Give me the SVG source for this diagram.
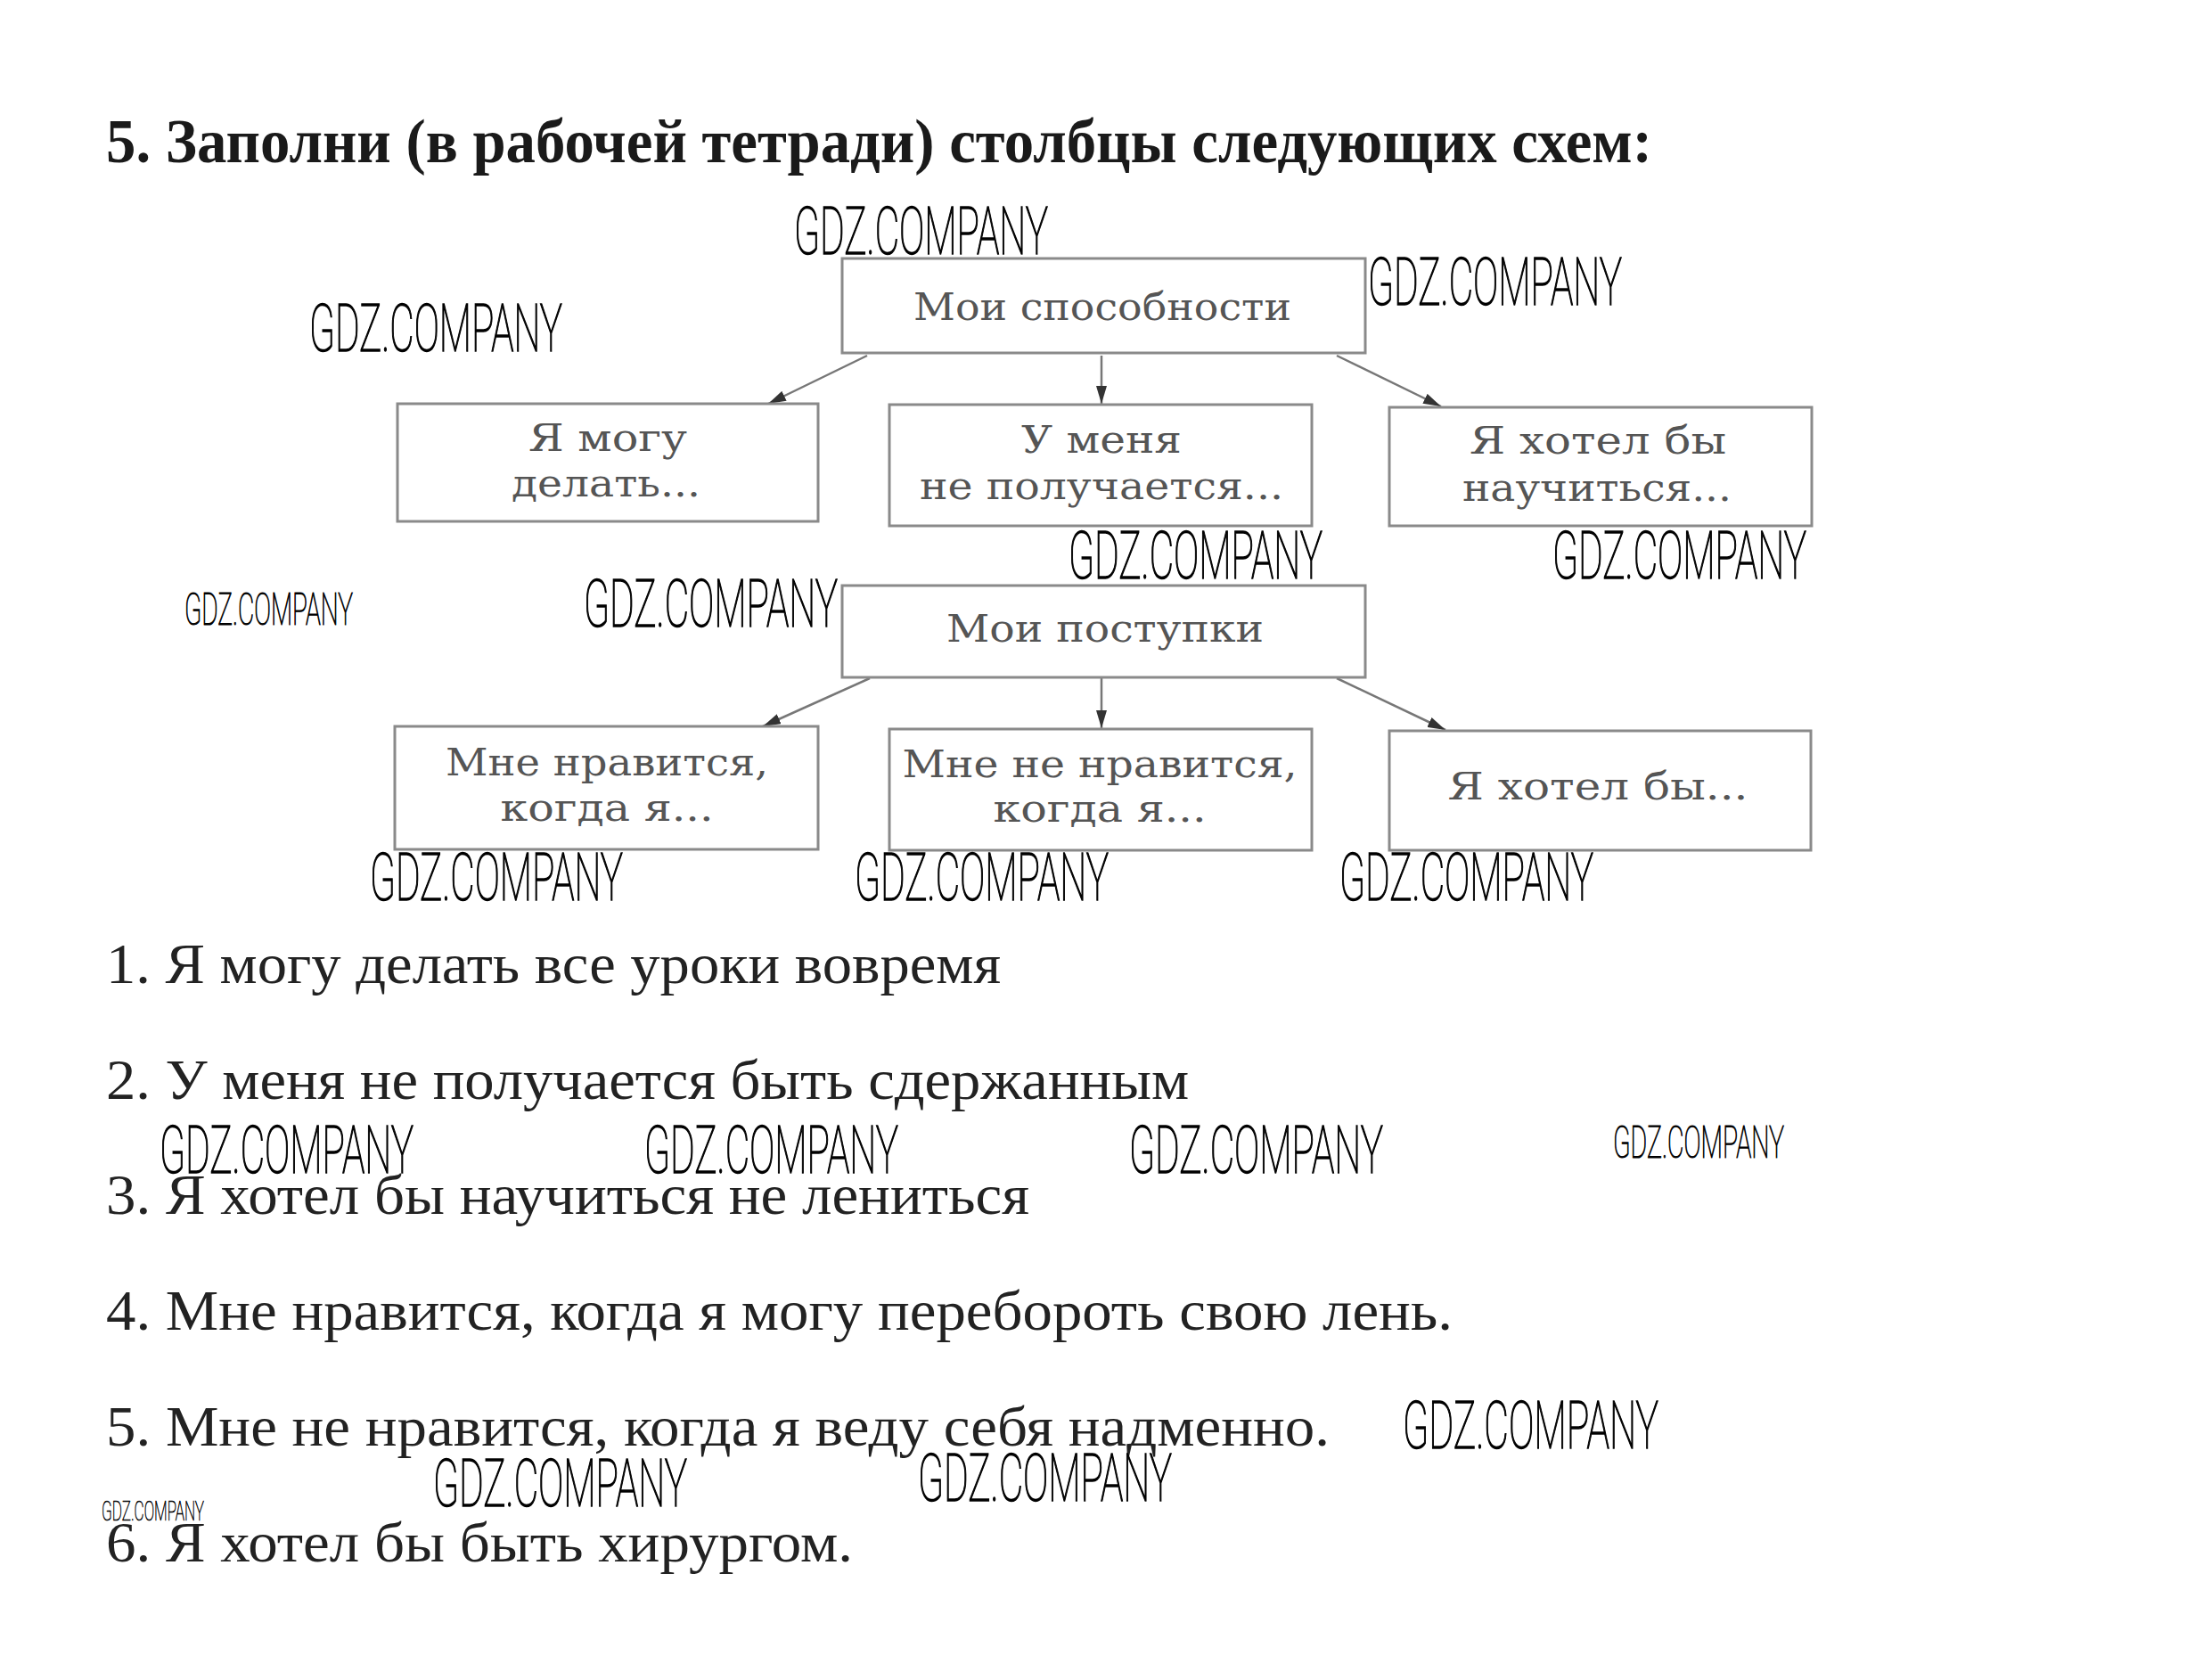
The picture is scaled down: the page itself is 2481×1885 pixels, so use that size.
<svg xmlns="http://www.w3.org/2000/svg" width="2481" height="1885" viewBox="0 0 2481 1885">
<style>
.title{font-family:"Liberation Serif",serif;font-weight:bold;font-size:70px;fill:#1a1a1a}
.ans{font-family:"Liberation Serif",serif;font-size:64px;fill:#222}
.box{fill:#fff;stroke:#8a8a8a;stroke-width:3}
.bt{font-family:"DejaVu Serif","Liberation Serif",serif;font-size:42px;fill:#555;text-anchor:middle}
.wm,.wms,.wmt{font-family:Roboto,Inter,"Liberation Sans",sans-serif;font-weight:100;fill:#000;stroke:#000}
.wm{font-size:74px;stroke-width:1.6}
.wms{font-size:50px;stroke-width:1.1}
.wmt{font-size:32px;stroke-width:0.7}
.con{stroke:#777;stroke-width:2.5;fill:none;marker-end:url(#ah)}
</style>
<defs>
<marker id="ah" viewBox="0 0 20 12" refX="20" refY="6" markerWidth="20" markerHeight="12" markerUnits="userSpaceOnUse" orient="auto">
<path d="M0,0 L20,6 L0,12 z" fill="#333"/>
</marker>
</defs>
<rect width="2481" height="1885" fill="#fff"/>
<text class="title" x="119" y="182" textLength="1735" lengthAdjust="spacingAndGlyphs">5. Заполни (в рабочей тетради) столбцы следующих схем:</text>

<g id="connectors">
<line class="con" x1="973" y1="399" x2="862" y2="453"/>
<line class="con" x1="1236" y1="399" x2="1236" y2="453"/>
<line class="con" x1="1500" y1="399" x2="1617" y2="456"/>
<line class="con" x1="976" y1="761" x2="856" y2="815"/>
<line class="con" x1="1236" y1="761" x2="1236" y2="817"/>
<line class="con" x1="1500" y1="761" x2="1622" y2="819"/>
</g>

<g id="n-abilities">
<rect class="box" x="945" y="290" width="587" height="106"/>
<text class="bt" x="1237" y="359" textLength="424" lengthAdjust="spacingAndGlyphs">Мои способности</text>
</g>
<g id="n-can">
<rect class="box" x="446" y="453" width="472" height="132"/>
<text class="bt" x="682" y="506" textLength="178" lengthAdjust="spacingAndGlyphs">Я могу</text>
<text class="bt" x="680" y="557" textLength="212" lengthAdjust="spacingAndGlyphs">делать...</text>
</g>
<g id="n-cannot">
<rect class="box" x="998" y="454" width="474" height="136"/>
<text class="bt" x="1236" y="508" textLength="180" lengthAdjust="spacingAndGlyphs">У меня</text>
<text class="bt" x="1236" y="560" textLength="408" lengthAdjust="spacingAndGlyphs">не получается...</text>
</g>
<g id="n-wantlearn">
<rect class="box" x="1559" y="457" width="474" height="133"/>
<text class="bt" x="1793" y="509" textLength="288" lengthAdjust="spacingAndGlyphs">Я хотел бы</text>
<text class="bt" x="1792" y="562" textLength="302" lengthAdjust="spacingAndGlyphs">научиться...</text>
</g>

<g id="n-deeds">
<rect class="box" x="945" y="657" width="587" height="103"/>
<text class="bt" x="1240" y="720" textLength="356" lengthAdjust="spacingAndGlyphs">Мои поступки</text>
</g>
<g id="n-like">
<rect class="box" x="443" y="815" width="475" height="138"/>
<text class="bt" x="681" y="870" textLength="362" lengthAdjust="spacingAndGlyphs">Мне нравится,</text>
<text class="bt" x="681" y="921" textLength="239" lengthAdjust="spacingAndGlyphs">когда я...</text>
</g>
<g id="n-dislike">
<rect class="box" x="998" y="818" width="474" height="136"/>
<text class="bt" x="1234" y="872" textLength="443" lengthAdjust="spacingAndGlyphs">Мне не нравится,</text>
<text class="bt" x="1234" y="922" textLength="239" lengthAdjust="spacingAndGlyphs">когда я...</text>
</g>
<g id="n-want">
<rect class="box" x="1559" y="820" width="473" height="134"/>
<text class="bt" x="1793" y="897" textLength="337" lengthAdjust="spacingAndGlyphs">Я хотел бы...</text>
</g>

<g id="answers">
<text class="ans" x="119" y="1103" textLength="1004" lengthAdjust="spacingAndGlyphs">1. Я могу делать все уроки вовремя</text>
<text class="ans" x="119" y="1233" textLength="1215" lengthAdjust="spacingAndGlyphs">2. У меня не получается быть сдержанным</text>
<text class="ans" x="119" y="1362" textLength="1036" lengthAdjust="spacingAndGlyphs">3. Я хотел бы научиться не лениться</text>
<text class="ans" x="119" y="1492" textLength="1511" lengthAdjust="spacingAndGlyphs">4. Мне нравится, когда я могу перебороть свою лень.</text>
<text class="ans" x="119" y="1622" textLength="1373" lengthAdjust="spacingAndGlyphs">5. Мне не нравится, когда я веду себя надменно.</text>
<text class="ans" x="119" y="1752" textLength="838" lengthAdjust="spacingAndGlyphs">6. Я хотел бы быть хирургом.</text>
</g>

<g id="watermarks">
<text class="wm" x="891" y="285" textLength="285" lengthAdjust="spacingAndGlyphs">GDZ.COMPANY</text>
<text class="wm" x="1535" y="342" textLength="285" lengthAdjust="spacingAndGlyphs">GDZ.COMPANY</text>
<text class="wm" x="347" y="394" textLength="284" lengthAdjust="spacingAndGlyphs">GDZ.COMPANY</text>
<text class="wm" x="1199" y="649" textLength="285" lengthAdjust="spacingAndGlyphs">GDZ.COMPANY</text>
<text class="wm" x="1742" y="649" textLength="285" lengthAdjust="spacingAndGlyphs">GDZ.COMPANY</text>
<text class="wms" x="207" y="701" textLength="189" lengthAdjust="spacingAndGlyphs">GDZ.COMPANY</text>
<text class="wm" x="655" y="703" textLength="285" lengthAdjust="spacingAndGlyphs">GDZ.COMPANY</text>
<text class="wm" x="415" y="1010" textLength="284" lengthAdjust="spacingAndGlyphs">GDZ.COMPANY</text>
<text class="wm" x="959" y="1010" textLength="285" lengthAdjust="spacingAndGlyphs">GDZ.COMPANY</text>
<text class="wm" x="1503" y="1010" textLength="285" lengthAdjust="spacingAndGlyphs">GDZ.COMPANY</text>
<text class="wm" x="179" y="1316" textLength="285" lengthAdjust="spacingAndGlyphs">GDZ.COMPANY</text>
<text class="wm" x="723" y="1316" textLength="285" lengthAdjust="spacingAndGlyphs">GDZ.COMPANY</text>
<text class="wm" x="1267" y="1316" textLength="285" lengthAdjust="spacingAndGlyphs">GDZ.COMPANY</text>
<text class="wms" x="1810" y="1299" textLength="192" lengthAdjust="spacingAndGlyphs">GDZ.COMPANY</text>
<text class="wm" x="1574" y="1625" textLength="287" lengthAdjust="spacingAndGlyphs">GDZ.COMPANY</text>
<text class="wm" x="486" y="1690" textLength="285" lengthAdjust="spacingAndGlyphs">GDZ.COMPANY</text>
<text class="wm" x="1030" y="1684" textLength="285" lengthAdjust="spacingAndGlyphs">GDZ.COMPANY</text>
<text class="wmt" x="114" y="1706" textLength="115" lengthAdjust="spacingAndGlyphs">GDZ.COMPANY</text>
</g>
</svg>
